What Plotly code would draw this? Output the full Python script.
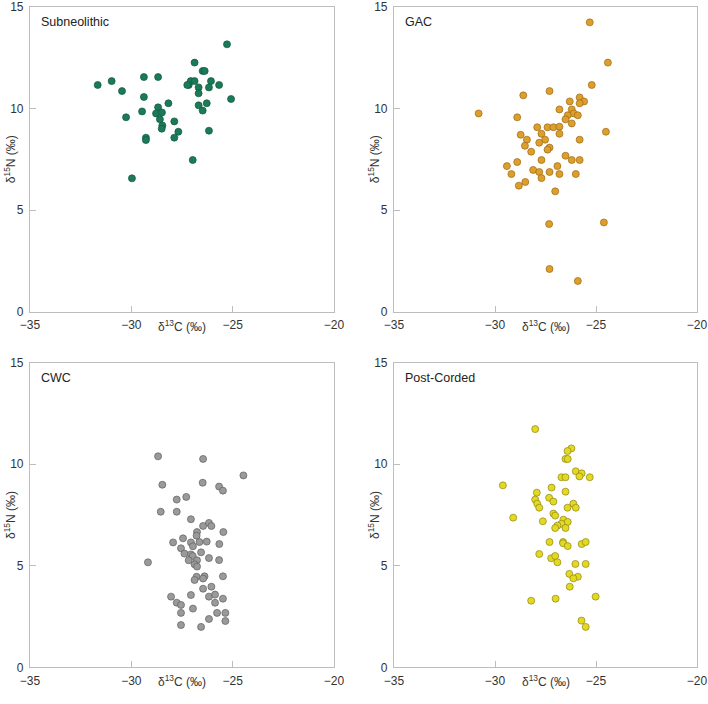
import plotly.graph_objects as go

# ---------------- data ----------------
panel_names = ["Subneolithic", "GAC", "CWC", "Post-Corded"]

subneo_c = [-25.28, -26.88, -26.48, -26.38, -31.66, -30.97, -29.38, -28.68, -30.46, -29.38,
            -30.26, -29.47, -28.68, -28.78, -28.49, -28.17, -28.59, -28.47, -28.50, -27.88,
            -27.68, -27.88, -29.28, -29.28, -26.97, -29.97, -27.17, -27.07, -26.88, -27.24,
            -26.68, -26.68, -26.07, -26.17, -25.67, -25.08, -26.68, -26.28, -26.48, -26.17]
subneo_n = [13.15, 12.25, 11.84, 11.84, 11.15, 11.34, 11.54, 11.54, 10.85, 10.56,
            9.56, 9.85, 10.05, 9.75, 9.80, 10.25, 9.46, 9.16, 9.00, 9.36,
            8.85, 8.56, 8.56, 8.44, 7.46, 6.56, 11.15, 11.34, 11.34, 11.15,
            11.03, 10.74, 11.34, 11.03, 11.15, 10.46, 10.15, 10.25, 9.89, 8.90]

gac_c = [-25.31, -24.41, -25.21, -28.60, -27.30, -30.81, -28.90, -26.30, -25.81, -25.59,
         -25.81, -26.81, -26.20, -26.10, -26.40, -25.90, -26.51, -26.20, -27.91, -27.40,
         -27.11, -26.81, -27.70, -26.81, -28.73, -28.42, -27.52, -27.81, -28.52, -27.30,
         -27.40, -28.21, -25.81, -24.51, -26.51, -26.20, -25.81, -27.70, -28.90, -29.41,
         -26.91, -29.19, -28.11, -27.81, -27.30, -26.81, -26.00, -27.70, -28.50, -28.82,
         -27.02, -27.32, -24.61, -27.30, -25.90]
gac_n = [14.23, 12.25, 11.15, 10.64, 10.85, 9.75, 9.56, 10.34, 10.54, 10.34,
         10.25, 9.95, 9.95, 9.75, 9.66, 9.66, 9.46, 9.26, 9.07, 9.07,
         9.07, 9.10, 8.75, 8.75, 8.70, 8.46, 8.46, 8.31, 8.16, 8.07,
         7.97, 7.87, 8.46, 8.85, 7.67, 7.46, 7.46, 7.46, 7.36, 7.16,
         7.16, 6.77, 6.97, 6.87, 6.87, 6.77, 6.77, 6.57, 6.38, 6.20,
         5.92, 4.31, 4.39, 2.10, 1.51]

cwc_c = [-28.68, -26.46, -24.47, -28.47, -26.48, -25.67, -25.48, -27.76, -27.29, -28.55,
         -27.76, -27.06, -26.46, -26.17, -26.05, -25.46, -26.76, -26.78, -27.94, -27.45,
         -27.06, -26.64, -26.28, -25.66, -26.96, -27.55, -27.38, -26.56, -27.06, -26.97,
         -27.17, -26.76, -26.88, -26.76, -26.17, -25.67, -29.18, -26.78, -26.88, -26.39,
         -26.46, -25.48, -26.46, -26.05, -28.04, -27.06, -26.17, -25.87, -25.48, -27.76,
         -27.55, -25.87, -26.96, -27.55, -25.77, -25.36, -26.17, -25.36, -27.55, -26.56]
cwc_n = [10.39, 10.26, 9.45, 8.99, 9.09, 8.90, 8.70, 8.26, 8.39, 7.66,
         7.66, 7.29, 6.96, 7.11, 6.96, 6.66, 6.66, 6.48, 6.15, 6.35,
         6.15, 6.17, 6.19, 6.07, 5.96, 5.86, 5.60, 5.66, 5.56, 5.48,
         5.27, 5.27, 5.07, 4.96, 5.38, 5.28, 5.17, 4.46, 4.30, 4.48,
         4.37, 4.48, 3.87, 3.97, 3.48, 3.56, 3.48, 3.58, 3.38, 3.18,
         3.07, 3.18, 2.89, 2.68, 2.68, 2.68, 2.38, 2.28, 2.08, 1.99]

post_c = [-28.01, -26.22, -26.41, -26.51, -26.40, -26.00, -25.71, -25.82, -25.31, -26.71,
          -26.51, -29.61, -27.20, -26.51, -27.93, -27.32, -28.01, -27.11, -27.91, -27.81,
          -26.12, -26.00, -26.41, -27.11, -27.02, -29.10, -27.63, -26.61, -26.40, -26.71,
          -26.91, -27.02, -26.51, -27.30, -26.63, -26.63, -26.40, -25.71, -25.51, -27.81,
          -27.22, -27.02, -26.91, -26.02, -25.51, -26.32, -25.90, -26.12, -26.30, -25.02,
          -28.21, -27.00, -25.72, -25.51]
post_n = [11.73, 10.78, 10.65, 10.26, 10.26, 9.65, 9.55, 9.40, 9.36, 9.36,
          9.36, 8.96, 8.85, 8.65, 8.60, 8.35, 8.26, 8.16, 8.06, 7.86,
          8.06, 7.86, 7.86, 7.57, 7.47, 7.37, 7.19, 7.27, 7.16, 7.07,
          6.98, 6.86, 6.86, 6.17, 6.17, 6.11, 5.97, 6.07, 6.17, 5.58,
          5.37, 5.48, 5.17, 5.09, 5.09, 4.60, 4.46, 4.38, 3.97, 3.48,
          3.28, 3.38, 2.30, 1.99]

x_range = [-35, -20]
y_range = [0, 15]
x_ticks = [-35, -30, -25, -20]
y_ticks = [0, 5, 10, 15]

fill_colors = ["#1b7a57", "#dd9e2c", "#9a9a9a", "#e3d822"]
line_colors = ["#0f5a3f", "#9c6a12", "#5e5e5e", "#8f8712"]

# ---------------- layout ----------------
W, H = 708, 704
xdoms_px = [(30, 334), (394, 697)]
ydoms_px = [(6.7, 311.7), (362.7, 667.3)]

def px_x(p):
    return p / W

def px_y(p):
    return 1 - p / H

FONT = "Liberation Sans, Arial, sans-serif"

fig = go.Figure()
data = [(subneo_c, subneo_n), (gac_c, gac_n), (cwc_c, cwc_n), (post_c, post_n)]

axis_common = dict(
    showgrid=False, zeroline=False, showline=True, mirror=True, automargin=False,
    linecolor="#bdbdbd", linewidth=1.2, ticks="inside", ticklen=6,
    tickcolor="#bdbdbd", tickwidth=1, ticklabeloverflow="allow",
    tickfont=dict(family=FONT, size=12, color="#333333"),
)

annotations = []
for i, (name, (xc, yn)) in enumerate(zip(panel_names, data)):
    row, col = divmod(i, 2)
    xa = "x" if i == 0 else f"x{i+1}"
    ya = "y" if i == 0 else f"y{i+1}"
    fig.add_trace(go.Scatter(
        x=xc, y=yn, mode="markers", xaxis=xa, yaxis=ya, showlegend=False,
        marker=dict(size=7, color=fill_colors[i],
                    line=dict(color=line_colors[i], width=0.7)),
    ))
    x0, x1 = xdoms_px[col]
    yt, yb = ydoms_px[row]
    fig.layout[f"xaxis{'' if i == 0 else i+1}"] = dict(
        axis_common, domain=[px_x(x0), px_x(x1)], range=x_range,
        tickvals=x_ticks, anchor=ya, ticklabelstandoff=2)
    fig.layout[f"yaxis{'' if i == 0 else i+1}"] = dict(
        axis_common, domain=[px_y(yb), px_y(yt)], range=y_range,
        tickvals=y_ticks, anchor=xa, ticklabelstandoff=3)
    # panel label
    annotations.append(dict(
        text=name, xref="paper", yref="paper", x=px_x(x0 + 9), y=px_y(yt + 15),
        xanchor="left", yanchor="middle", showarrow=False,
        font=dict(family=FONT, size=12.5, color="#222222")))
    # x axis title
    annotations.append(dict(
        text="δ<sup>13</sup>C (‰)", xref="paper", yref="paper",
        x=px_x((x0 + x1) / 2), y=px_y(yb + 14), xanchor="center", yanchor="middle",
        showarrow=False,
        font=dict(family=FONT, size=12, color="#333333")))
    # y axis title
    annotations.append(dict(
        text="δ<sup>15</sup>N (‰)", xref="paper", yref="paper",
        x=px_x(x0 - 20), y=px_y((yt + yb) / 2), xanchor="center", yanchor="middle",
        textangle=-90, showarrow=False,
        font=dict(family=FONT, size=12, color="#333333")))

fig.update_layout(
    width=W, height=H, margin=dict(l=0, r=0, t=0, b=0, autoexpand=False),
    paper_bgcolor="white", plot_bgcolor="white",
    annotations=annotations,
)

fig.write_html("out.html", config={"displayModeBar": False},
               post_script="document.body.style.margin='0';document.body.style.overflow='hidden';")
